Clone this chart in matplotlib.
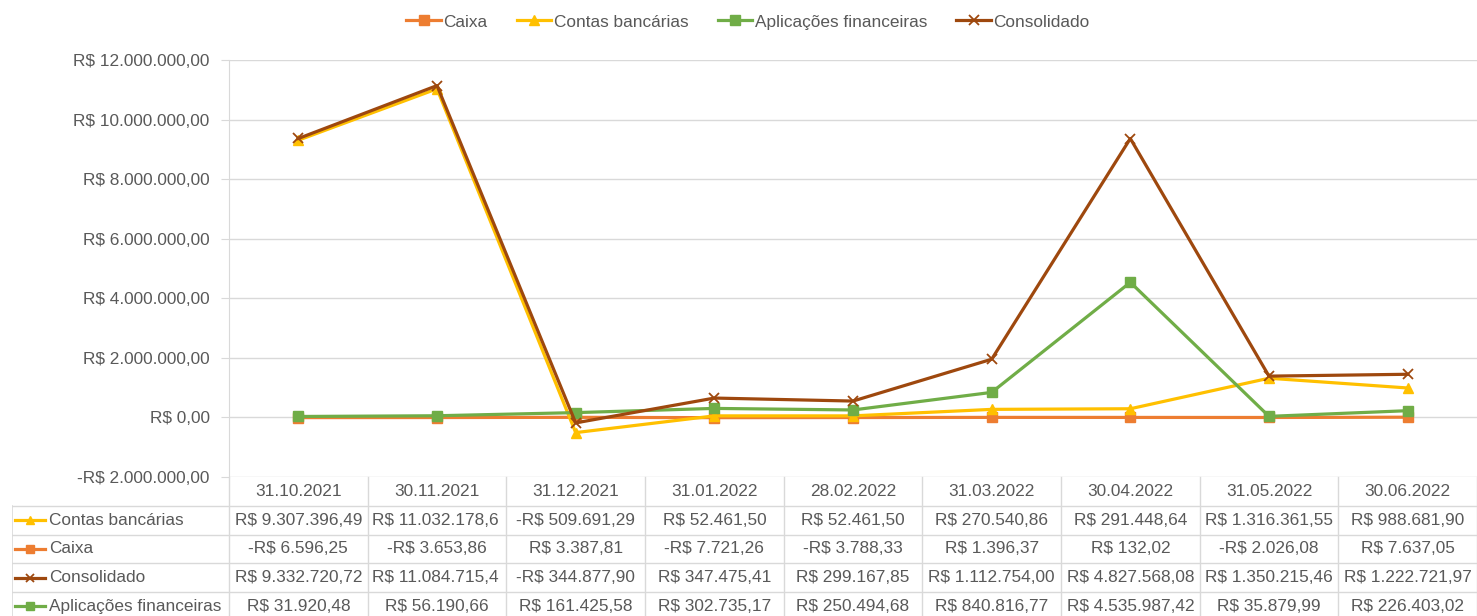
import matplotlib.pyplot as plt
from matplotlib.lines import Line2D
from matplotlib.patches import Rectangle

plt.rcParams['font.family'] = ['Liberation Sans', 'DejaVu Sans']

datas = ["31.10.2021", "30.11.2021", "31.12.2021", "31.01.2022", "28.02.2022",
         "31.03.2022", "30.04.2022", "31.05.2022", "30.06.2022"]
contas = [9307396.49, 11032178.60, -509691.29, 52461.50, 52461.50,
          270540.86, 291448.64, 1316361.55, 988681.90]
caixa = [-6596.25, -3653.86, 3387.81, -7721.26, -3788.33,
         1396.37, 132.02, -2026.08, 7637.05]
consolidado = [9332720.72, 11084715.40, -344877.90, 347475.41, 299167.85,
               1112754.00, 4827568.08, 1350215.46, 1222721.97]
aplicacoes = [31920.48, 56190.66, 161425.58, 302735.17, 250494.68,
              840816.77, 4535987.42, 35879.99, 226403.02]
y_ticks = [-2000000, 0, 2000000, 4000000, 6000000, 8000000, 10000000, 12000000]

TXT = "#595959"
GRID = "#D9D9D9"
FS = 12.4


def brl(v):
    s = f"{abs(v):,.2f}".replace(",", "X").replace(".", ",").replace("X", ".")
    return ("-R$ " if v < 0 else "R$ ") + s


# no Excel a série Consolidado está empilhada sobre Aplicações financeiras
consolidado_plot = [c + a for c, a in zip(consolidado, aplicacoes)]

estilos = {
    "Caixa": dict(color="#ED7D31", marker="s", ms=7),
    "Contas bancárias": dict(color="#FFC000", marker="^", ms=7),
    "Aplicações financeiras": dict(color="#70AD47", marker="s", ms=7),
    "Consolidado": dict(color="#9E480E", marker="x", ms=7, mew=1.3),
}

W, H = 1477, 616
fig = plt.figure(figsize=(W / 100, H / 100), dpi=100)

# área do gráfico
x0, x1, ytop, ybot = 229, 1477, 60, 477
ax = fig.add_axes([x0 / W, 1 - ybot / H, (x1 - x0) / W, (ybot - ytop) / H])
x = list(range(len(datas)))
series = [("Caixa", caixa), ("Contas bancárias", contas),
          ("Aplicações financeiras", aplicacoes), ("Consolidado", consolidado_plot)]
handles = []
for nome, vals in series:
    ln, = ax.plot(x, vals, lw=2.3, label=nome, **estilos[nome])
    handles.append(ln)

ax.set_xlim(-0.5, len(datas) - 0.5)
ax.set_ylim(y_ticks[0], y_ticks[-1])
ax.set_yticks(y_ticks)
ax.set_yticklabels([brl(v) for v in y_ticks], color=TXT, fontsize=FS)
ax.tick_params(axis='y', length=6, color=GRID, pad=8)
ax.set_xticks([])
ax.grid(axis='y', color=GRID, lw=1)
ax.set_axisbelow(True)
for s in ["top", "right", "bottom"]:
    ax.spines[s].set_visible(False)
ax.spines["left"].set_color(GRID)

fig.legend(handles=handles, loc="center", bbox_to_anchor=(748 / W, 1 - 22 / H),
           ncol=4, frameon=False, fontsize=FS, handlelength=2.0,
           handletextpad=0.15, columnspacing=1.7, labelcolor=TXT)

# tabela de dados
cw = (x1 - x0) / len(datas)
lab_left = 12
xmin = -0.5 - (x0 - lab_left) / cw
rh = 28.75
tab = fig.add_axes([lab_left / W, 0, (x1 - lab_left) / W, (H - ybot) / H])
tab.set_xlim(xmin, len(datas) - 0.5)
tab.set_ylim((H - ybot) / rh, 0)
tab.axis("off")

linhas = [("Contas bancárias", contas), ("Caixa", caixa),
          ("Consolidado", consolidado), ("Aplicações financeiras", aplicacoes)]
nrows = len(linhas) + 1
ymax = (H - ybot) / rh + 0.5

# grade da tabela
for i in range(len(datas) + 1):
    tab.plot([i - 0.5, i - 0.5], [0, ymax], color=GRID, lw=1, clip_on=False)
tab.plot([xmin, xmin], [1, ymax], color=GRID, lw=1.2)
for r in range(1, nrows + 1):
    tab.plot([xmin, len(datas) - 0.5], [r, r], color=GRID, lw=1)

for i, d in enumerate(datas):
    tab.text(i, 0.5, d, ha="center", va="center", fontsize=FS, color=TXT)

for r, (nome, vals) in enumerate(linhas, start=1):
    st = estilos[nome]
    tab.add_line(Line2D([xmin + 0.02, xmin + 0.24], [r + 0.5, r + 0.5],
                        color=st["color"], lw=2.3))
    tab.add_line(Line2D([xmin + 0.13], [r + 0.5], color=st["color"],
                        marker=st["marker"], ms=st["ms"] - 1, mew=st.get("mew", 1)))
    tab.text(xmin + 0.27, r + 0.5, nome, ha="left", va="center", fontsize=FS, color=TXT)
    for i, v in enumerate(vals):
        s = brl(v)
        if len(s) >= 16:
            # texto maior que a célula: cortado na borda, como no Excel
            t = tab.text(i - 0.47, r + 0.5, s, ha="left", va="center", fontsize=FS,
                         color=TXT, clip_on=True)
            clip = Rectangle((i - 0.5, r), 0.95, 1, transform=tab.transData,
                             fill=False, visible=False)
            tab.add_patch(clip)
            t.set_clip_path(clip)
        else:
            tab.text(i, r + 0.5, s, ha="center", va="center", fontsize=FS, color=TXT)

fig.savefig("out.png", dpi=100)
